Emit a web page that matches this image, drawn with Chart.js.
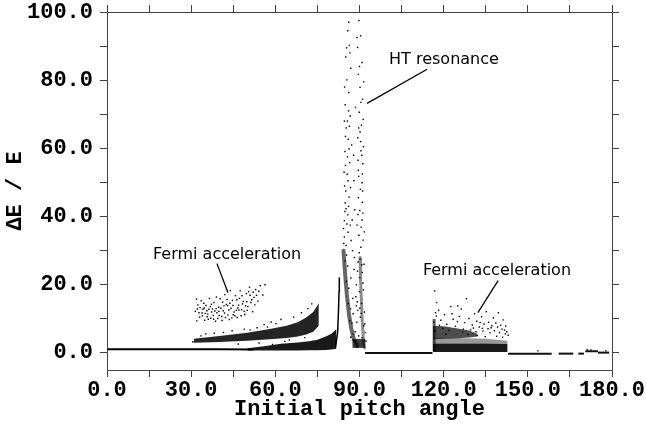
<!DOCTYPE html>
<html>
<head>
<meta charset="utf-8">
<script src="https://cdn.jsdelivr.net/npm/chart.js@4.4.1/dist/chart.umd.min.js"></script>
<style>
  html, body { margin: 0; padding: 0; background: #fff; }
  #wrap { width: 646px; height: 425px; }
</style>
</head>
<body>
<div id="wrap"><canvas id="grafico" width="646" height="425"></canvas></div>
<script>
// ticks
const xTicks = [0, 15, 30, 45, 60, 75, 90, 105, 120, 135, 150, 165, 180];
const yTicks = [0, 10, 20, 30, 40, 50, 60, 70, 80, 90, 100];

// thin baseline at small pitch angles
const baseX = [0.4, 20, 40, 52];
const baseY = [1.1, 1.1, 1.1, 1.0];

// lower (dense) band
const lowX  = [50, 56, 62, 68, 72, 75, 78, 80, 81.8];
const lowLo = [0.7, 0.7, 0.7, 0.7, 0.8, 0.8, 0.9, 1.0, 1.2];
const lowHi = [1.4, 2.0, 2.7, 3.1, 3.4, 3.9, 4.8, 5.6, 7.0];

// upper (dense) band
const upX  = [31, 40, 50, 58, 64, 68, 71, 73.5, 75.5];
const upLo = [3.0, 3.2, 3.6, 4.0, 4.4, 4.8, 5.4, 6.2, 8.0];
const upHi = [4.2, 5.0, 5.9, 7.0, 8.0, 9.0, 10.4, 12.0, 14.6];

// thin spike just below 90
const spikeX = [81.5, 82.2, 82.5, 82.7, 82.8];
const spikeY = [2, 6, 12, 18, 22];

// HT resonance, dense branches
const htLeftX  = [84.3, 84.8, 85.5, 86.3, 87.1, 88.0, 89.2];
const htLeftY  = [30, 24, 17, 11, 7, 4, 2];
const htRightX = [90.2, 90.4, 90.7, 91.0, 91.4, 91.8];
const htRightY = [28, 21, 15, 9, 4, 1.5];
const htFootX  = [87.5, 92.0];
const htFootY  = [2.8, 2.8];

// HT resonance, sparse points
const htPts = [
  [85.8,94.5],[86.4,90.2],[85.1,86.8],[86.9,83.5],[85.5,80.1],[86.2,76.4],[84.9,72.8],[86.7,69.5],
  [85.3,66.0],[86.0,62.7],[84.8,59.1],[86.5,55.8],[85.6,52.4],[84.7,49.0],[86.3,45.7],[85.2,42.3],
  [84.6,38.8],[85.9,35.4],[84.4,32.1],[85.4,28.7],[84.9,44.0],[85.7,57.5],[86.1,71.0],[85.0,63.5],
  [84.5,53.0],[85.8,40.5],[84.3,36.5],[85.1,47.5],[86.6,88.0],
  [89.8,97.5],[90.4,93.0],[89.3,89.6],[90.9,85.2],[89.6,81.7],[90.2,77.9],[91.1,74.4],[89.9,70.6],
  [90.7,66.8],[89.4,63.1],[90.5,59.3],[91.2,55.5],[89.7,51.8],[90.3,48.0],[91.0,44.2],[89.5,40.6],
  [90.6,36.9],[91.3,33.1],[89.9,29.4],[90.8,25.8],[90.1,22.1],[91.4,18.5],[89.2,15.0],[90.6,11.6],
  [91.5,8.0],[90.4,62.0],[89.6,45.5],[90.9,39.0],[91.0,52.5],[89.8,34.5],[90.2,27.5],[91.2,20.5],
  [90.7,14.5],[89.5,56.5],[91.3,68.5],[90.0,84.0],[87.9,58.0],[88.3,42.0],[87.5,30.0],[88.6,72.0],
  [88.9,20.0],[88.1,24.5],[91.8,12.0],[92.1,6.0],[86.9,22.0],[87.6,16.0],
  [84.6,34.0],[85.2,31.5],[84.9,27.0],[85.8,25.5],[85.3,21.0],[86.2,19.0],[86.0,14.5],[86.8,13.0],
  [86.5,9.5],[87.3,8.8],[87.8,5.5],[88.5,6.2],[89.0,9.0],[89.4,12.5],[88.7,16.5],[88.2,28.0],
  [87.0,33.0],[87.4,39.0],[86.8,48.5],[87.2,61.0],[86.4,66.5],[88.0,50.5],[89.1,37.5],[89.3,24.0],
  [90.0,18.0],[90.3,10.5],[91.6,26.0],[91.7,35.5],[91.1,47.5],[90.8,58.0],[89.7,66.0],[90.5,73.5],
  [91.5,79.5],[89.1,92.5],[86.2,97.0],[85.4,89.5],[84.7,78.0],[84.6,68.0],[85.9,50.5],[86.7,37.5],
  [92.3,3.5],[91.9,8.5],[88.4,3.4],[89.7,5.0],[90.9,4.5],[86.9,4.6],[87.7,11.5],[88.9,13.8],
  [85.5,37.8],[84.8,41.5],[86.1,43.0],[85.0,55.0],[86.3,59.8],[85.7,68.0],[90.1,41.8],[90.9,49.9],
  [89.6,53.6],[91.4,60.5],[90.2,64.8],[91.2,41.0],[90.5,31.0],[89.5,26.7],[91.0,23.6],[90.1,13.1]
];

// Fermi acceleration, left cluster
const fermiLeft = [
  [31.5,12.2],[32.4,14.1],[33.0,10.5],[33.6,15.3],[34.2,12.8],[34.8,9.6],[35.3,13.9],[35.9,11.4],
  [36.5,16.0],[37.0,10.2],[37.6,12.9],[38.1,14.8],[38.7,9.3],[39.2,11.8],[39.8,13.4],[40.3,15.9],
  [40.9,10.7],[41.4,12.4],[42.0,17.1],[42.5,14.2],[43.1,11.1],[43.6,9.8],[44.2,13.1],[44.7,15.4],
  [45.3,12.0],[45.8,16.8],[46.4,10.4],[46.9,14.0],[47.5,18.2],[48.0,12.7],[48.6,15.1],[49.1,11.3],
  [49.7,17.4],[50.2,13.6],[50.8,19.3],[51.3,14.8],[51.9,12.1],[52.4,16.3],[53.0,18.6],[53.8,15.2],
  [54.6,19.7],[55.5,17.0],[56.3,20.0],[32.8,11.8],[34.0,10.9],[36.1,9.9],[37.3,12.0],[38.9,13.0],
  [40.0,11.0],[41.7,13.8],[43.4,12.6],[45.0,11.2],[46.6,13.2],[48.3,14.4],[49.8,15.0],[51.0,16.9],
  [52.7,14.1],[35.0,11.6],[39.5,10.1],[42.8,15.7],[44.0,18.3],[47.2,16.0],[50.5,18.0],[33.2,13.3],
  [36.8,13.6],[41.0,9.5],[44.5,10.3],[48.9,12.2],[32.0,9.4],[34.5,14.6],[37.9,11.0],[41.2,14.9],
  [46.1,12.5],[39.0,16.4],[43.0,13.9],[47.8,10.9],[31.9,15.8],[35.6,12.4],
  [33.9,11.7],[35.7,10.6],[37.2,14.3],[38.4,12.3],[40.6,13.1],[42.2,10.4],[44.9,13.9],[46.3,15.6],
  [48.1,16.8],[49.4,13.8],[51.6,15.6],[53.3,16.9],[36.3,12.8],[39.9,12.2],[43.8,14.6],[45.6,10.9],
  [47.0,12.6],[50.0,12.5],[52.1,17.8],[54.1,18.1],[32.2,12.9],[34.6,13.2],[38.0,9.9],[41.9,11.7]
];

// loose points above the bands
const bandPts = [
  [56.0,8.3],[58.5,9.1],[60.2,8.6],[62.0,9.8],[53.5,7.4],[48.9,7.0],[44.6,6.5],[66.5,10.5],
  [69.3,11.8],[71.6,13.0],[73.0,14.4],[38.2,5.8],[33.5,5.0],[57.2,7.6],[63.4,3.4],[59.0,2.5],
  [30.6,3.3],[35.2,5.6],[41.5,6.0],[51.0,6.7],[46.8,2.6],[54.2,2.9],[65.0,3.8],[70.5,4.5]
];

// Fermi acceleration, right cluster
const rBaseX  = [116.2, 125, 135, 142.8];
const rBaseLo = [0.3, 0.3, 0.3, 0.3];
const rBaseHi = [2.8, 2.8, 2.8, 2.6];
const rMidX   = [116.2, 125, 135, 142.8];
const rMidLo  = [2.8, 2.8, 2.8, 2.6];
const rMidHi  = [4.4, 4.4, 4.2, 3.6];
const rTopX   = [116.2, 120, 125, 129, 132];
const rTopLo  = [4.0, 4.2, 4.3, 4.5, 4.8];
const rTopHi  = [8.0, 7.8, 7.2, 6.6, 5.6];
const fermiRight = [
  [116.8,18.2],[118.2,12.5],[117.4,10.8],[119.0,9.6],[120.3,11.2],[121.1,8.4],[122.5,13.6],[123.4,9.9],
  [124.2,7.8],[125.6,10.7],[126.3,12.9],[127.5,8.9],[128.1,15.9],[129.0,10.1],[130.2,8.2],[131.0,11.5],
  [131.8,9.3],[132.7,7.6],[133.5,10.6],[134.4,8.5],[135.2,12.1],[136.0,9.0],[136.9,7.4],[137.7,10.3],
  [138.6,8.8],[139.5,11.8],[140.3,8.1],[141.2,9.7],[142.1,7.9],[119.7,7.2],[121.9,6.6],[124.9,9.2],
  [127.0,7.0],[129.6,6.8],[133.0,8.9],[135.8,7.1],[138.1,6.5],[140.8,7.0],[142.5,6.2],[118.5,8.1],
  [123.0,11.5],[126.8,6.1],[130.6,7.3],[134.0,6.4],[137.2,8.0],[139.9,6.0],[141.7,6.7],[120.8,5.5],
  [128.6,5.4],[136.5,5.9],[117.5,14.8],[125.0,13.8],[116.5,9.0],[116.9,6.5],[117.1,11.8],[143.0,5.2],
  [132.0,5.1],[138.9,4.9],[141.0,4.6],[134.8,4.8],[131.5,6.2],[133.8,7.2],[139.2,7.6],[142.0,5.6]
];

// flat segments near zero
const flatSegs = [
  [[92.0, 116.0], [0.0, 0.0]],
  [[143.0, 158.5], [-0.2, -0.2]],
  [[161.0, 166.2], [-0.2, -0.2]],
  [[168.0, 170.0], [-0.2, -0.2]],
  [[170.5, 175.0], [0.5, 0.5]],
  [[175.0, 179.0], [0.1, 0.1]]
];
const flatPts = [[153.6,0.6],[171.2,1.0],[172.5,0.9],[177.8,0.6]];

// annotations (data coords)
const etiquetas = [
  { texto: 'Fermi acceleration', x: 42.8, y: 28.9, desde: [39.2, 26.2], hasta: [43.1, 17.7] },
  { texto: 'HT resonance',       x: 120.1, y: 86.1, desde: [114.1, 83.2], hasta: [92.7, 73.2] },
  { texto: 'Fermi acceleration', x: 139.0, y: 24.0, desde: [139.4, 21.2], hasta: [132.2, 11.8] }
];

const pts = (xs, ys) => xs.map((x, i) => ({ x: x, y: ys[i] }));
const pares = (arr) => arr.map(p => ({ x: p[0], y: p[1] }));

const datasets = [];
function linea(xs, ys, ancho, color, extra) {
  datasets.push(Object.assign({
    type: 'line', data: pts(xs, ys), borderColor: color, borderWidth: ancho,
    pointRadius: 0, fill: false, tension: 0, borderCapStyle: 'round'
  }, extra || {}));
}
function banda(xs, lo, hi, color) {
  linea(xs, lo, 0, 'rgba(0,0,0,0)');
  linea(xs, hi, 0, 'rgba(0,0,0,0)', { fill: '-1', backgroundColor: color });
}
function nube(arr, r) {
  datasets.push({
    type: 'scatter', data: pares(arr), backgroundColor: '#000', borderWidth: 0,
    pointRadius: r, pointStyle: 'rect'
  });
}

linea(baseX, baseY, 2, '#000');
banda(lowX, lowLo, lowHi, 'rgba(0,0,0,0.9)');
banda(upX, upLo, upHi, 'rgba(0,0,0,0.86)');
linea(spikeX, spikeY, 1.5, '#000');
linea(htLeftX, htLeftY, 4, 'rgba(0,0,0,0.6)');
linea(htRightX, htRightY, 3, 'rgba(0,0,0,0.45)');
linea(htFootX, htFootY, 9, 'rgba(0,0,0,0.75)', { borderCapStyle: 'butt' });
banda(rBaseX, rBaseLo, rBaseHi, 'rgba(0,0,0,0.9)');
banda(rMidX, rMidLo, rMidHi, 'rgba(0,0,0,0.4)');
banda(rTopX, rTopLo, rTopHi, 'rgba(0,0,0,0.7)');
linea([116.6, 116.6], [0.5, 10], 3, 'rgba(0,0,0,0.6)', { borderCapStyle: 'butt' });
flatSegs.forEach(s => linea(s[0], s[1], 2, '#111', { borderCapStyle: 'butt' }));
nube(htPts, 1);
nube(fermiLeft, 1);
nube(bandPts, 1);
nube(fermiRight, 1);
nube(flatPts, 1);

const notas = {
  id: 'notas',
  afterDatasetsDraw(chart) {
    const { ctx, scales: { x, y } } = chart;
    ctx.save();
    ctx.fillStyle = '#000';
    ctx.strokeStyle = '#000';
    ctx.lineWidth = 1.3;
    ctx.font = '16px "DejaVu Sans"';
    ctx.textAlign = 'center';
    ctx.textBaseline = 'middle';
    etiquetas.forEach(e => {
      ctx.fillText(e.texto, x.getPixelForValue(e.x), y.getPixelForValue(e.y));
      ctx.beginPath();
      ctx.moveTo(x.getPixelForValue(e.desde[0]), y.getPixelForValue(e.desde[1]));
      ctx.lineTo(x.getPixelForValue(e.hasta[0]), y.getPixelForValue(e.hasta[1]));
      ctx.stroke();
    });
    ctx.restore();
  }
};

const fuenteEje = { family: '"Liberation Mono", "DejaVu Sans Mono", monospace', size: 22, weight: 'bold' };
const rejilla = { drawOnChartArea: false, drawTicks: true, tickLength: 7, color: '#444' };
const borde = { color: '#444', width: 1 };
const sinRelleno = a => { a.paddingTop = 0; a.paddingBottom = 0; a.paddingLeft = 0; a.paddingRight = 0; };

new Chart(document.getElementById('grafico').getContext('2d'), {
  type: 'scatter',
  data: { datasets: datasets },
  options: {
    responsive: false,
    animation: false,
    layout: { padding: 0 },
    plugins: { legend: { display: false }, tooltip: { enabled: false } },
    scales: {
      x: {
        type: 'linear', position: 'bottom', min: 0, max: 180,
        afterBuildTicks: a => { a.ticks = xTicks.map(v => ({ value: v })); },
        afterFit: a => { a.height = 55; sinRelleno(a); },
        ticks: {
          autoSkip: false, maxRotation: 0, padding: 0, color: '#000', font: fuenteEje,
          callback: v => (v % 30 === 0 ? v.toFixed(1) : '')
        },
        grid: rejilla, border: borde,
        title: { display: true, text: 'Initial pitch angle', color: '#000', font: fuenteEje, padding: { top: 0, bottom: 2 } }
      },
      xTop: {
        type: 'linear', position: 'top', min: 0, max: 180,
        afterBuildTicks: a => { a.ticks = xTicks.map(v => ({ value: v })); },
        afterFit: a => { a.height = 12; sinRelleno(a); },
        ticks: { display: false }, grid: rejilla, border: borde
      },
      y: {
        type: 'linear', position: 'left', min: -5, max: 100,
        afterBuildTicks: a => { a.ticks = yTicks.map(v => ({ value: v })); },
        afterFit: a => { a.width = 107; sinRelleno(a); },
        ticks: {
          autoSkip: false, padding: 7, color: '#000', font: fuenteEje,
          callback: v => (v % 20 === 0 ? v.toFixed(1) : '')
        },
        grid: rejilla, border: borde,
        title: { display: true, text: 'ΔE / E', color: '#000', font: fuenteEje, padding: { top: 2, bottom: 0 } }
      },
      yRight: {
        type: 'linear', position: 'right', min: -5, max: 100,
        afterBuildTicks: a => { a.ticks = yTicks.map(v => ({ value: v })); },
        afterFit: a => { a.width = 34; sinRelleno(a); },
        ticks: { display: false }, grid: rejilla, border: borde
      }
    }
  },
  plugins: [notas]
});
</script>
</body>
</html>
